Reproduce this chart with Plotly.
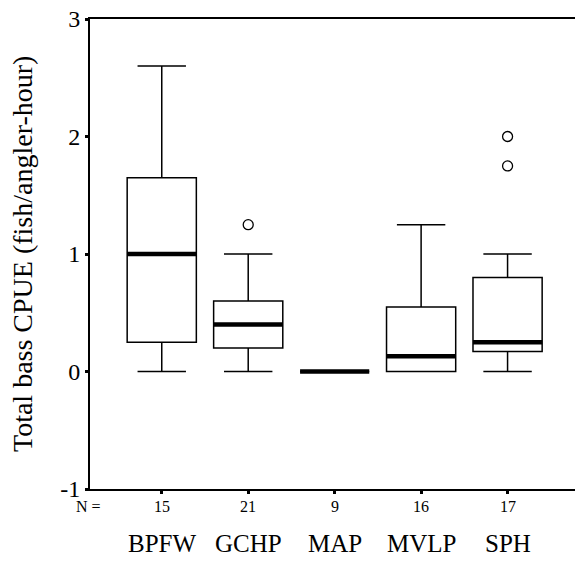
import plotly.graph_objects as go

# Total bass catch-per-unit-effort by site (fish per angler-hour)
sites = ["BPFW", "GCHP", "MAP", "MVLP", "SPH"]
n_anglers = [15, 21, 9, 16, 17]
lower_fence = [0.0, 0.0, 0.0, 0.0, 0.0]
q1 = [0.25, 0.20, 0.0, 0.0, 0.17]
median = [1.0, 0.40, 0.0, 0.13, 0.25]
q3 = [1.65, 0.60, 0.0, 0.55, 0.80]
upper_fence = [2.6, 1.0, 0.0, 1.25, 1.0]
outlier_site = ["GCHP", "SPH", "SPH"]
outlier_value = [1.25, 1.75, 2.0]
y_ticks = [-1, 0, 1, 2, 3]
y_tick_labels = ["-1", "0", "1", "2", "3"]

FONT = "Liberation Serif, Times New Roman, serif"
pos = list(range(1, len(sites) + 1))
site_pos = {s: p for s, p in zip(sites, pos)}
BOX_W = 0.8

fig = go.Figure()

fig.add_trace(go.Box(
    x=pos, q1=q1, median=median, q3=q3,
    lowerfence=lower_fence, upperfence=upper_fence,
    width=BOX_W, whiskerwidth=0.7,
    line=dict(color="black", width=1.5),
    fillcolor="white", boxpoints=False,
    hoverinfo="skip", showlegend=False,
))

# heavy median bars
mx, my = [], []
for p, m in zip(pos, median):
    mx += [p - BOX_W / 2, p + BOX_W / 2, None]
    my += [m, m, None]
fig.add_trace(go.Scatter(
    x=mx, y=my, mode="lines",
    line=dict(color="black", width=4.5),
    hoverinfo="skip", showlegend=False,
))

# outliers
fig.add_trace(go.Scatter(
    x=[site_pos[s] for s in outlier_site], y=outlier_value,
    mode="markers",
    marker=dict(symbol="circle-open", size=10, color="black",
                line=dict(width=1.3, color="black")),
    hoverinfo="skip", showlegend=False,
))

annotations = [dict(
    text="Total bass CPUE (fish/angler-hour)",
    xref="paper", yref="paper", x=-68 / 485, y=0.5,
    xanchor="center", yanchor="middle", textangle=-90,
    showarrow=False, font=dict(family=FONT, size=28, color="black"),
)]
annotations.append(dict(
    text="N =", xref="paper", yref="paper", x=-2 / 485, y=-17 / 470,
    xanchor="center", yanchor="middle", showarrow=False,
    font=dict(family=FONT, size=16, color="black"),
))
for p, n, s in zip(pos, n_anglers, sites):
    annotations.append(dict(
        text=str(n), xref="x", yref="paper", x=p, y=-17 / 470,
        xanchor="center", yanchor="middle", showarrow=False,
        font=dict(family=FONT, size=16, color="black"),
    ))
    annotations.append(dict(
        text=s, xref="x", yref="paper", x=p, y=-54 / 470,
        xanchor="center", yanchor="middle", showarrow=False,
        font=dict(family=FONT, size=25, color="black"),
    ))

fig.update_layout(
    width=575, height=561,
    margin=dict(l=90, r=0, t=19, b=72),
    paper_bgcolor="white", plot_bgcolor="white",
    font=dict(family=FONT, color="black"),
    annotations=annotations,
    xaxis=dict(
        range=[0.17, 5.78], tickvals=pos, showticklabels=False,
        ticks="outside", ticklen=3, tickwidth=3, tickcolor="black",
        showline=True, linecolor="black", linewidth=2, mirror=True,
        showgrid=False, zeroline=False, fixedrange=True,
    ),
    yaxis=dict(
        range=[-1, 3], tickvals=y_ticks, ticktext=y_tick_labels,
        ticks="outside", ticklen=3, tickwidth=3, tickcolor="black",
        tickfont=dict(family=FONT, size=24, color="black"),
        showline=True, linecolor="black", linewidth=2,
        showgrid=False, zeroline=False, fixedrange=True,
    ),
)

fig.write_html("out.html")
